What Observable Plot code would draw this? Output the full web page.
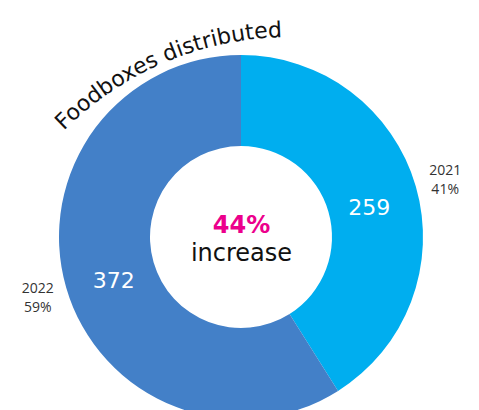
<!DOCTYPE html>
<html><head><meta charset="utf-8">
<script src="https://cdn.jsdelivr.net/npm/d3@7"></script>
<script src="https://cdn.jsdelivr.net/npm/@observablehq/plot@0.6"></script>
<style>body{margin:0;background:#fff}</style>
</head><body><div id="chart"></div>
<script>
const years = ["2021", "2022"];
const values = [259, 372];
const colors = ["#00AEEF", "#4380C8"];
const title = "Foodboxes distributed";
const centerLabel = "increase";

const total = d3.sum(values);
const pie = d3.pie().sort(null)(values);
const rows = years.map((y, i) => ({
  year: y, value: values[i], pct: Math.round(values[i] / total * 100),
  a: (pie[i].startAngle + pie[i].endAngle) / 2,
  start: pie[i].startAngle, end: pie[i].endAngle, color: colors[i]
}));
const increase = Math.round((values[1] - values[0]) / values[0] * 100);

const R = 182, r0 = 91, rIn = 133, rOut = 212;
const polar = (a, rad) => [rad * Math.sin(a), -rad * Math.cos(a)];
const geoFont = "'DejaVu Sans', sans-serif";

function donut(...args) {
  const scales = args.find(a => a && typeof a.x === "function" && typeof a.y === "function");
  const sx = scales ? scales.x : (v => v + 241);
  const sy = scales ? scales.y : (v => v + 237);
  const cx = sx(0), cy = sy(0);
  const k = sx(1) - sx(0);
  const g = d3.create("svg:g");
  const arc = d3.arc().innerRadius(r0 * k).outerRadius(R * k);
  g.append("g").attr("transform", `translate(${cx},${cy})`)
    .selectAll("path").data(rows).join("path")
    .attr("d", d => arc({startAngle: d.start, endAngle: d.end}))
    .attr("fill", d => d.color);
  // curved title
  const tcx = sx(49), tcy = sy(120), tr = 320 * k;
  const a0 = -45 * Math.PI / 180, a1 = 14 * Math.PI / 180;
  const p0 = [tcx + tr * Math.sin(a0), tcy - tr * Math.cos(a0)];
  const p1 = [tcx + tr * Math.sin(a1), tcy - tr * Math.cos(a1)];
  g.append("path").attr("id", "titlearc").attr("fill", "none")
    .attr("d", `M${p0[0]},${p0[1]} A${tr},${tr} 0 0 1 ${p1[0]},${p1[1]}`);
  g.append("text")
    .attr("font-family", geoFont).attr("font-weight", 400)
    .attr("font-size", 22).attr("fill", "#111").attr("text-anchor", "start")
    .append("textPath").attr("href", "#titlearc").attr("startOffset", 0)
    .text(title);
  return g.node();
}

const chart = Plot.plot({
  width: 479, height: 410, margin: 0,
  style: {background: "#fff", overflow: "visible"},
  x: {domain: [-241, 238], range: [0, 479], axis: null},
  y: {domain: [-237, 173], range: [0, 410], axis: null},
  marks: [
    donut,
    Plot.text(rows, {
      x: d => polar(d.a, rIn)[0], y: d => polar(d.a, rIn)[1], dy: 7,
      text: d => String(d.value), fill: "white", fontSize: 22, fontWeight: 400, fontFamily: geoFont
    }),
    Plot.text(rows, {
      x: d => polar(d.a, rOut)[0], y: d => polar(d.a, rOut)[1],
      text: d => `${d.year}\n${d.pct}%`, fill: "#333", fontSize: 14, lineHeight: 1.35,
      fontFamily: "'Open Sans', sans-serif"
    }),
    Plot.text([`${increase}%`], {
      x: 0, y: 0, dy: -12, text: d => d, fill: "#EC008C", fontWeight: "bold",
      fontSize: 24, fontFamily: geoFont
    }),
    Plot.text([centerLabel], {
      x: 0, y: 0, dy: 16, text: d => d, fill: "#111", fontWeight: 400,
      fontSize: 24, fontFamily: geoFont
    })
  ]
});
document.getElementById("chart").appendChild(chart);
</script>
</body></html>
